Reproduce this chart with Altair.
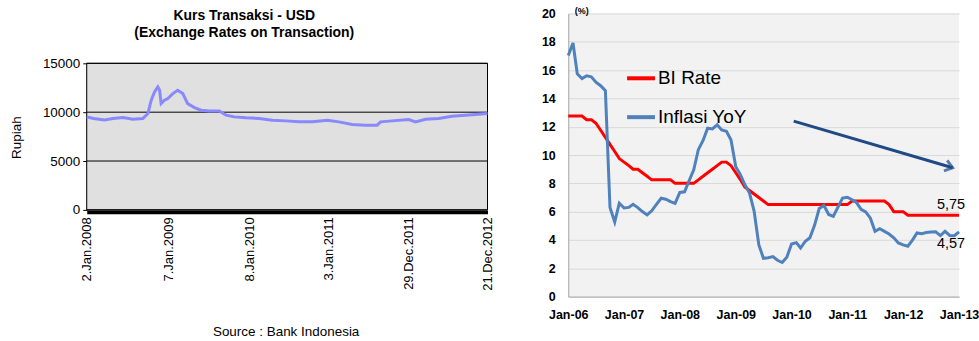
import altair as alt
import pandas as pd

FONT = "Liberation Sans"

# ---------------- Left panel: Kurs Transaksi - USD ----------------
kurs_dates = [
    "2008-01-02", "2008-02-01", "2008-03-23", "2008-04-30", "2008-06-14", "2008-07-29",
    "2008-09-12", "2008-10-05", "2008-10-20", "2008-11-04", "2008-11-19", "2008-11-27",
    "2008-12-04", "2008-12-19", "2009-01-03", "2009-01-26", "2009-02-17", "2009-03-12",
    "2009-04-03", "2009-05-04", "2009-06-03", "2009-07-10", "2009-08-24", "2009-09-24",
    "2009-10-31", "2009-12-23", "2010-02-21", "2010-04-22", "2010-06-22", "2010-08-21",
    "2010-10-20", "2010-12-27", "2011-02-17", "2011-04-18", "2011-06-18", "2011-08-09",
    "2011-08-25", "2011-10-16", "2011-12-30", "2012-01-30", "2012-03-15", "2012-05-14",
    "2012-07-13", "2012-09-11", "2012-11-10", "2012-12-21",
]
kurs_values = [
    9520, 9350, 9200, 9350, 9450, 9280,
    9350, 9860, 11220, 12070, 12580, 12240,
    10880, 11220, 11390, 11900, 12240, 11900,
    10880, 10470, 10200, 10130, 10130, 9690,
    9520, 9420, 9350, 9180, 9110, 9010,
    9010, 9180, 9010, 8740, 8670, 8670,
    9010, 9110, 9250, 9010, 9280, 9350,
    9590, 9690, 9790, 9860,
]
kurs_tick_dates = ["2008-01-02", "2009-01-07", "2010-01-08", "2011-01-03", "2011-12-29", "2012-12-21"]
kurs_y_ticks = [0, 5000, 10000, 15000]
kurs_title = ["Kurs Transaksi - USD", "(Exchange Rates on Transaction)"]
kurs_source = ["Source : Bank Indonesia"]

# ---------------- Right panel: BI Rate & Inflasi ----------------
months = pd.date_range("2006-01-01", "2013-01-01", freq="MS").strftime("%Y-%m-%d").tolist()
bi_rate = [
    12.75, 12.75, 12.75, 12.75, 12.50, 12.50, 12.25, 11.75, 11.25, 10.75, 10.25, 9.75,
    9.50, 9.25, 9.00, 9.00, 8.75, 8.50, 8.25, 8.25, 8.25, 8.25, 8.25, 8.00,
    8.00, 8.00, 8.00, 8.00, 8.25, 8.50, 8.75, 9.00, 9.25, 9.50, 9.50, 9.25,
    8.75, 8.25, 7.75, 7.50, 7.25, 7.00, 6.75, 6.50, 6.50, 6.50, 6.50, 6.50,
    6.50, 6.50, 6.50, 6.50, 6.50, 6.50, 6.50, 6.50, 6.50, 6.50, 6.50, 6.50,
    6.50, 6.75, 6.75, 6.75, 6.75, 6.75, 6.75, 6.75, 6.75, 6.50, 6.00, 6.00,
    6.00, 5.75, 5.75, 5.75, 5.75, 5.75, 5.75, 5.75, 5.75, 5.75, 5.75, 5.75,
    5.75,
]
inflasi = [
    17.03, 17.92, 15.74, 15.40, 15.60, 15.53, 15.15, 14.90, 14.55, 6.29, 5.27, 6.60,
    6.26, 6.30, 6.52, 6.29, 6.01, 5.77, 6.06, 6.51, 6.95, 6.88, 6.71, 6.59,
    7.36, 7.40, 8.17, 8.96, 10.38, 11.03, 11.90, 11.85, 12.14, 11.77, 11.68, 11.06,
    9.17, 8.60, 7.92, 7.31, 6.04, 3.65, 2.71, 2.75, 2.83, 2.57, 2.41, 2.78,
    3.72, 3.81, 3.43, 3.91, 4.16, 5.05, 6.22, 6.44, 5.80, 5.67, 6.33, 6.96,
    7.02, 6.84, 6.65, 6.16, 5.98, 5.54, 4.61, 4.79, 4.61, 4.42, 4.15, 3.79,
    3.65, 3.56, 3.97, 4.50, 4.45, 4.53, 4.56, 4.58, 4.31, 4.61, 4.32, 4.30,
    4.57,
]
series_names = ["BI Rate", "Inflasi YoY"]
series_colors = ["#FF0000", "#4F81BD"]
rate_tick_dates = ["2006-01-01", "2007-01-01", "2008-01-01", "2009-01-01",
                   "2010-01-01", "2011-01-01", "2012-01-01", "2013-01-01"]
rate_y_ticks = [0, 2, 4, 6, 8, 10, 12, 14, 16, 18, 20]
end_label_dates = ["2013-01-01", "2013-01-01"]
end_label_values = [5.75, 4.57]
end_label_texts = ["5,75", "4,57"]
arrow_dates = ["2010-01-15", "2012-11-20"]
arrow_values = [12.4, 9.1]


def dt(s):
    y, m, d = (int(p) for p in s.split("-"))
    return alt.DateTime(year=y, month=m, date=d, utc=True)


# ---------- left chart ----------
LEFT_H = 197  # view height; the framed plot occupies its lower 147 px
kx_scale = alt.Scale(type="utc", domain=[dt(kurs_tick_dates[0]), dt(kurs_tick_dates[-1])], nice=False)
ky_scale = alt.Scale(domain=[0, 15000], range=[LEFT_H, 50], nice=False, zero=True)

kx_axis = alt.Axis(
    values=[dt(s) for s in kurs_tick_dates],
    labelExpr="utcFormat(datum.value, '%-d.%b.%Y')",
    labelAngle=-90, labelFont=FONT, labelFontSize=13, labelColor="black",
    labelPadding=5, ticks=False, grid=False,
    domainColor="black", domainWidth=4, offset=2, title=None,
    labelOverlap=False, tickCount=10,
)
ky_axis = alt.Axis(
    values=kurs_y_ticks, format="d", labelFont=FONT, labelFontSize=13.5, labelColor="black",
    labelPadding=3, tickColor="black", tickSize=4, grid=False,
    domainColor="black", labelOverlap=False, tickCount=10,
    title="Rupiah", titleFont=FONT, titleFontSize=13.5, titleFontWeight="normal",
    titleColor="black", titleAngle=-90, titleX=-70, titleY=124,
    titleAlign="center", titleBaseline="middle",
)

bg_df = pd.DataFrame({
    "x0": [kurs_tick_dates[0]], "x1": [kurs_tick_dates[-1]],
    "y0": [kurs_y_ticks[0]], "y1": [kurs_y_ticks[-1]],
})
kurs_bg = alt.Chart(bg_df).mark_rect(fill="#E0E0E0", stroke="black", strokeWidth=1).encode(
    x=alt.X("x0:T", scale=kx_scale, axis=kx_axis), x2="x1:T",
    y=alt.Y("y0:Q", scale=ky_scale, axis=ky_axis), y2="y1:Q",
)
grid_df = pd.DataFrame({"v": kurs_y_ticks})
kurs_grid = alt.Chart(grid_df).mark_rule(color="black", strokeWidth=1).encode(
    y=alt.Y("v:Q", scale=ky_scale, axis=ky_axis)
)
kurs_df = pd.DataFrame({"date": kurs_dates, "value": kurs_values})
kurs_line = alt.Chart(kurs_df).mark_line(color="#8888FF", strokeWidth=3).encode(
    x=alt.X("date:T", scale=kx_scale, axis=kx_axis),
    y=alt.Y("value:Q", scale=ky_scale, axis=ky_axis),
)
source_df = pd.DataFrame({"t": kurs_source})
source_text = alt.Chart(source_df).mark_text(
    font=FONT, fontSize=13.5, color="black", align="center", baseline="middle"
).encode(text="t:N", x=alt.value(200), y=alt.value(320))

left = alt.layer(kurs_bg, kurs_grid, kurs_line, source_text).properties(
    width=402, height=LEFT_H,
    view=alt.ViewBackground(fill=None, stroke=None),
    title=alt.TitleParams(
        text=kurs_title, font=FONT, fontSize=14, fontWeight="bold", color="black",
        anchor="middle", dx=-43, offset=-27, lineHeight=17,
    ),
)

# ---------- right chart ----------
rate_df = pd.concat([
    pd.DataFrame({"date": months, "value": bi_rate, "series": series_names[0]}),
    pd.DataFrame({"date": months, "value": inflasi, "series": series_names[1]}),
])

rx_scale = alt.Scale(type="utc", domain=[dt(rate_tick_dates[0]), dt(rate_tick_dates[-1])], nice=False)
ry_scale = alt.Scale(domain=[0, 20], nice=False)

rx = alt.X(
    "date:T", scale=rx_scale,
    axis=alt.Axis(
        values=[dt(s) for s in rate_tick_dates],
        labelExpr="utcFormat(datum.value, '%b-%y')",
        labelAngle=0, labelFont=FONT, labelFontSize=12.5, labelFontWeight="bold",
        labelColor="black", labelPadding=12, ticks=False, grid=False,
        domainColor="#A6A6A6", title=None, labelOverlap=False, labelFlush=False,
        tickCount=20,
    ),
)
ry = alt.Y(
    "value:Q", scale=ry_scale,
    axis=alt.Axis(
        values=rate_y_ticks, labelFont=FONT, labelFontSize=12.5, labelFontWeight="bold",
        labelColor="black", labelPadding=13, ticks=False, labelOverlap=False,
        tickCount=20,
        grid=True, gridColor="#D9D9D9", gridWidth=1, domainColor="#A6A6A6",
        title="(%)", titleFont=FONT, titleFontSize=9, titleFontWeight="bold",
        titleColor="black", titleAngle=0, titleX=13, titleY=-3,
        titleAlign="center", titleBaseline="middle",
    ),
)

lines = alt.Chart(rate_df).mark_line(strokeWidth=3).encode(
    x=rx, y=ry,
    color=alt.Color(
        "series:N",
        scale=alt.Scale(domain=series_names, range=series_colors),
        sort=series_names,
        legend=alt.Legend(
            title=None, orient="none", legendX=57, legendY=49,
            symbolType="stroke", symbolSize=784, symbolStrokeWidth=4,
            labelFont=FONT, labelFontSize=19, labelColor="black",
            labelOffset=1, rowPadding=13,
        ),
    ),
    detail="series:N",
)

end_df = pd.DataFrame({"date": end_label_dates, "value": end_label_values, "t": end_label_texts})
end_upper = alt.Chart(end_df.iloc[[0]]).mark_text(
    font=FONT, fontSize=14.5, color="black", align="center", baseline="middle", dx=-8, dy=-10
).encode(x=alt.X("date:T", scale=rx_scale), y=alt.Y("value:Q", scale=ry_scale), text="t:N")
end_lower = alt.Chart(end_df.iloc[[1]]).mark_text(
    font=FONT, fontSize=14.5, color="black", align="center", baseline="middle", dx=-8, dy=12
).encode(x=alt.X("date:T", scale=rx_scale), y=alt.Y("value:Q", scale=ry_scale), text="t:N")

arrow_df = pd.DataFrame({"date": arrow_dates, "value": arrow_values})
arrow_line = alt.Chart(arrow_df).mark_line(color="#1F4A86", strokeWidth=3).encode(
    x=alt.X("date:T", scale=rx_scale), y=alt.Y("value:Q", scale=ry_scale)
)
arrow_head = alt.Chart(arrow_df.iloc[[1]]).mark_point(
    shape="M-1,-0.75L0,0L-1,0.75", filled=False, stroke="#1F4A86", strokeWidth=3,
    size=220, angle=17,
).encode(x=alt.X("date:T", scale=rx_scale), y=alt.Y("value:Q", scale=ry_scale))

right = alt.layer(lines, arrow_line, arrow_head, end_upper, end_lower).properties(
    width=392, height=284,
    view=alt.ViewBackground(fill="#F2F2F2", stroke=None),
)

chart = alt.hconcat(left, right, spacing=47).resolve_legend(
    color="independent"
).properties(
    padding={"left": 10, "top": 6, "right": 0, "bottom": 0},
    background="white",
)

chart.save("out.html", embed_options={"renderer": "svg", "actions": False})
